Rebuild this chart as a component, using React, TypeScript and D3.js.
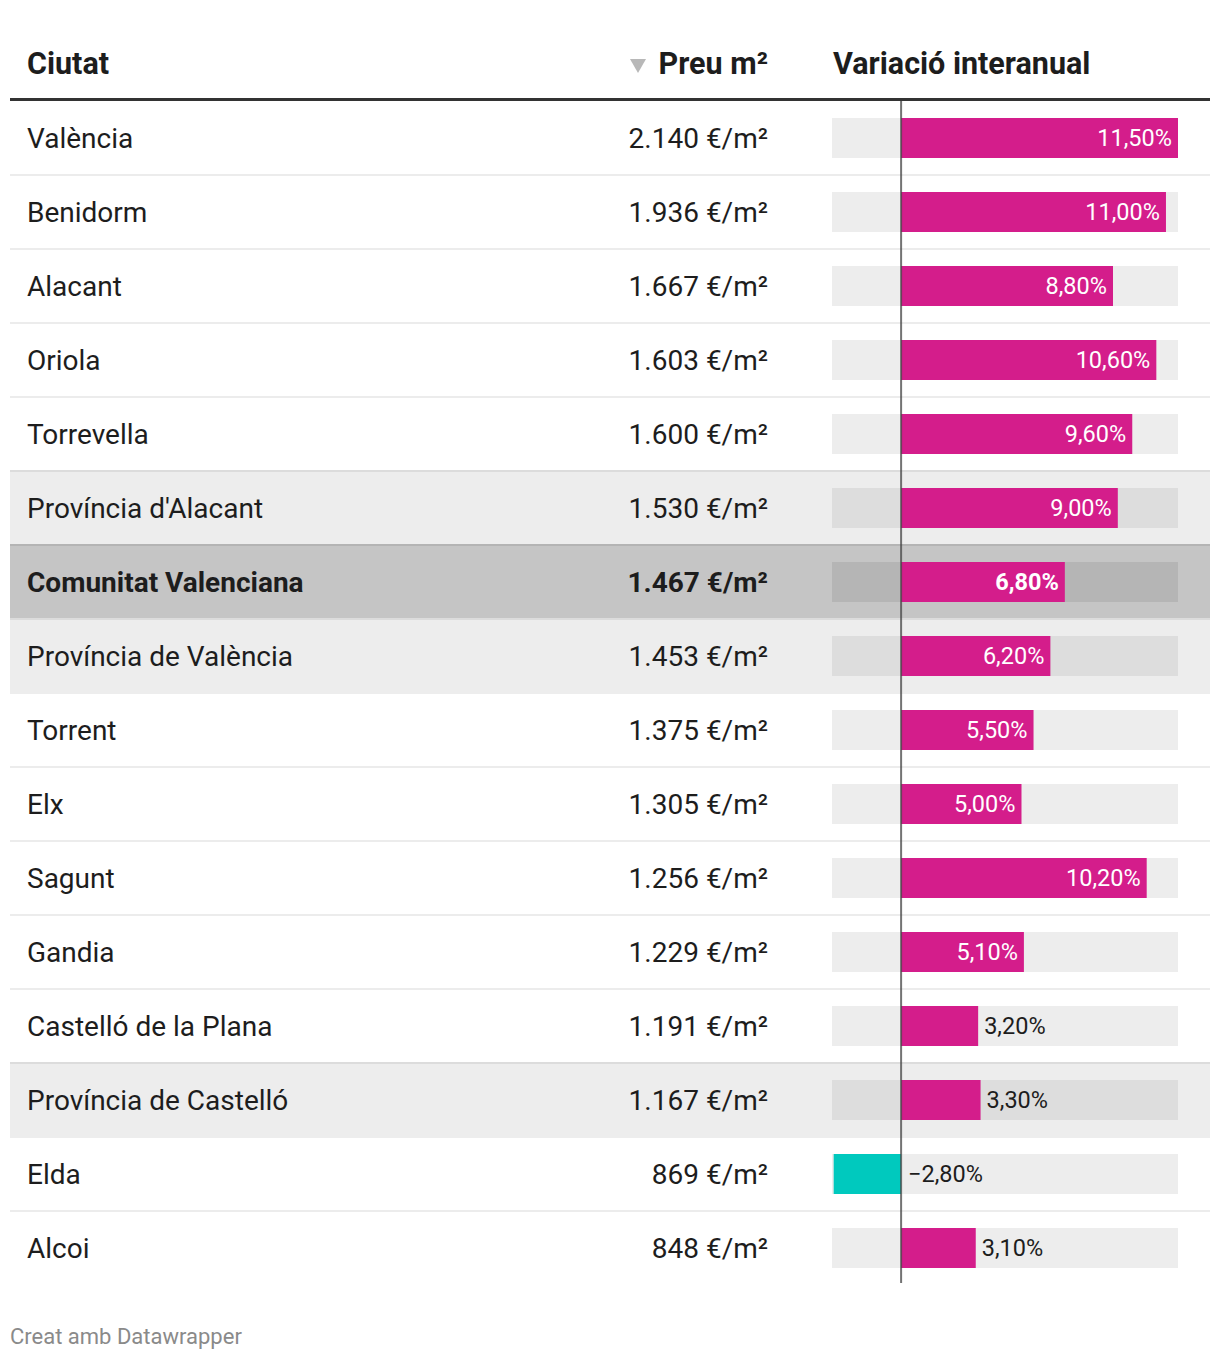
import React from "react";
import * as d3 from "d3";

const cities = [
  "València",
  "Benidorm",
  "Alacant",
  "Oriola",
  "Torrevella",
  "Província d'Alacant",
  "Comunitat Valenciana",
  "Província de València",
  "Torrent",
  "Elx",
  "Sagunt",
  "Gandia",
  "Castelló de la Plana",
  "Província de Castelló",
  "Elda",
  "Alcoi",
];
const prices = [2140, 1936, 1667, 1603, 1600, 1530, 1467, 1453, 1375, 1305, 1256, 1229, 1191, 1167, 869, 848];
const variations = [11.5, 11.0, 8.8, 10.6, 9.6, 9.0, 6.8, 6.2, 5.5, 5.0, 10.2, 5.1, 3.2, 3.3, -2.8, 3.1];
// row kind: "n" normal, "p" province (light grey), "t" total (dark grey, bold)
const rowKinds = ["n", "n", "n", "n", "n", "p", "t", "p", "n", "n", "n", "n", "n", "p", "n", "n"];
const headers = ["Ciutat", "Preu m²", "Variació interanual"];
const footer = "Creat amb Datawrapper";

const W = 1220;
const H = 1360;
const FONT = "Roboto, 'Noto Sans', sans-serif";
const PINK = "#d41d8b";
const CYAN = "#00c9be";

const locale = d3.formatLocale({ decimal: ",", thousands: ".", grouping: [3], currency: ["", "€"] });
const fmtPrice = locale.format(",d");
const fmtPct = locale.format(",.2f");

export default function App() {
  const idx = cities.map((_, i) => i);
  const y = d3.scaleBand<number>().domain(idx).range([101, 101 + 74 * cities.length]).padding(0);
  const x = d3
    .scaleLinear()
    .domain([-2.87, d3.max(variations) as number])
    .range([832, 1178]);
  const x0 = x(0);
  const bw = y.bandwidth();
  const barH = 40;

  const rowBg = (k: string) => (k === "t" ? "#c5c5c5" : k === "p" ? "#ededed" : "#ffffff");
  const barBg = (k: string) => (k === "t" ? "#b5b5b5" : k === "p" ? "#dddddd" : "#ededed");
  const topBorder = (i: number) => {
    const k = rowKinds[i];
    const prev = rowKinds[i - 1];
    if (k === "t") return "#b4b4b4";
    if (k === "p") return "#dcdcdc";
    if (prev === "t") return "#dcdcdc";
    if (prev === "p") return "#ededed";
    return "#ececec";
  };

  return (
    <svg
      width={W}
      height={H}
      style={{ position: "absolute", left: 0, top: 0, background: "#fff" }}
      fontFamily={FONT}
    >
      {/* header */}
      <text x={27} y={74} fontSize={30.5} fontWeight={700} fill="#1d1d1d">
        {headers[0]}
      </text>
      <polygon points="630,59 646,59 638,73" fill="#b8b8b8" />
      <text x={768} y={74} fontSize={30.5} fontWeight={700} fill="#1d1d1d" textAnchor="end">
        {headers[1]}
      </text>
      <text x={833} y={74} fontSize={30.5} fontWeight={700} fill="#1d1d1d">
        {headers[2]}
      </text>

      {/* rows */}
      {idx.map((i) => {
        const top = y(i) as number;
        const cy = top + bw / 2;
        const k = rowKinds[i];
        const v = variations[i];
        const bold = k === "t";
        const barStart = Math.min(x(v), x0);
        const barEnd = Math.max(x(v), x0);
        const barWidth = barEnd - barStart;
        const label = fmtPct(v) + "%";
        const inside = v > 0 && barWidth > 95;
        let lx: number;
        let anchor: "start" | "end";
        let lfill: string;
        if (inside) {
          lx = x(v) - 6;
          anchor = "end";
          lfill = "#ffffff";
        } else if (v >= 0) {
          lx = x(v) + 6;
          anchor = "start";
          lfill = "#1d1d1d";
        } else {
          lx = x0 + 7;
          anchor = "start";
          lfill = "#1d1d1d";
        }
        return (
          <g key={i}>
            <rect x={10} y={top} width={1200} height={bw} fill={rowBg(k)} />
            {i > 0 && <rect x={10} y={top - 1} width={1200} height={2} fill={topBorder(i)} />}
            <text
              x={27}
              y={cy}
              dy="0.35em"
              fontSize={28}
              fontWeight={bold ? 700 : 400}
              fill="#1d1d1d"
            >
              {cities[i]}
            </text>
            <text
              x={768}
              y={cy}
              dy="0.35em"
              fontSize={28}
              fontWeight={bold ? 700 : 400}
              fill="#1d1d1d"
              textAnchor="end"
            >
              {fmtPrice(prices[i]) + " €/m²"}
            </text>
            <rect x={x.range()[0]} y={cy - barH / 2} width={x.range()[1] - x.range()[0]} height={barH} fill={barBg(k)} />
            <rect x={barStart} y={cy - barH / 2} width={barWidth} height={barH} fill={v < 0 ? CYAN : PINK} />
            <text
              x={lx}
              y={cy}
              dy="0.35em"
              fontSize={23.5}
              fontWeight={bold ? 700 : 400}
              fill={lfill}
              textAnchor={anchor}
            >
              {label}
            </text>
          </g>
        );
      })}

      {/* header rule */}
      <rect x={10} y={98} width={1200} height={3} fill="#333333" />
      {/* zero line */}
      <rect
        x={x0 - 1}
        y={101}
        width={2}
        height={(y.range()[1] as number) - 2 - 101}
        fill="#444444"
        fillOpacity={0.75}
      />

      {/* footer */}
      <text x={10} y={1344} fontSize={22} fill="#8a8a8a">
        {footer}
      </text>
    </svg>
  );
}
